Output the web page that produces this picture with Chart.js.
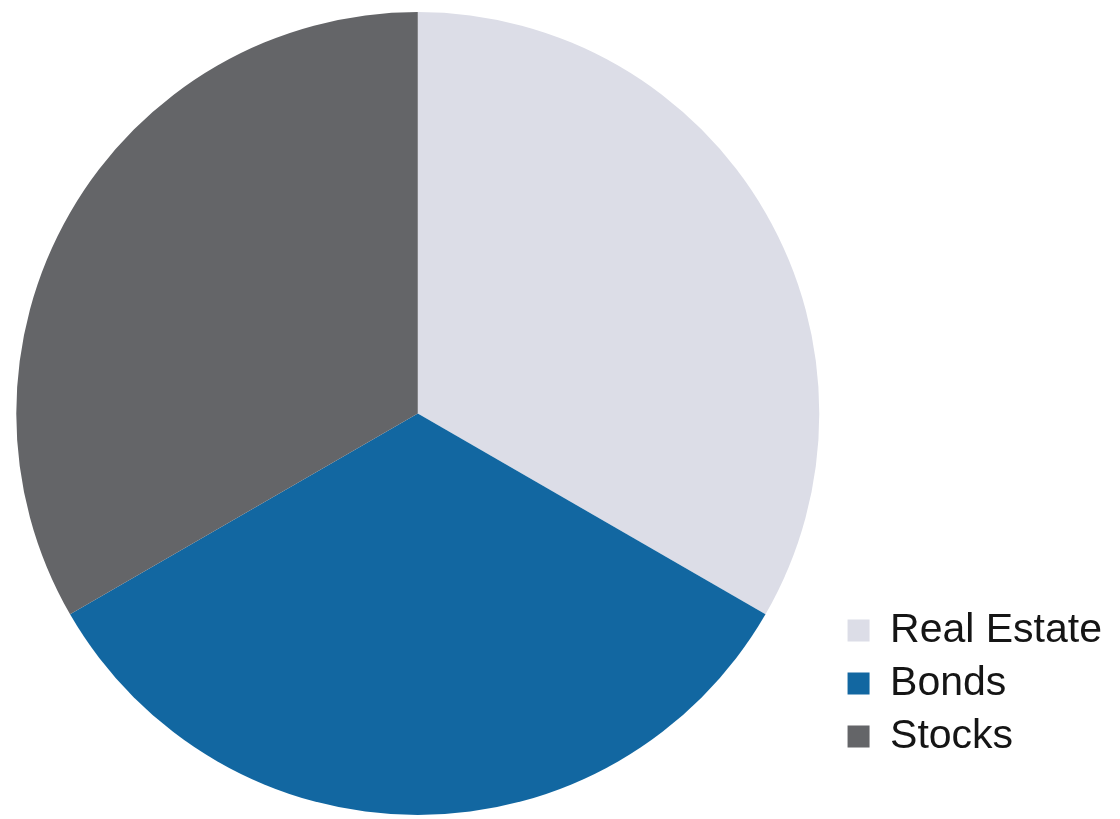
<!DOCTYPE html>
<html lang="en">
<head>
  <meta charset="UTF-8">
  <title>Allocation</title>
  <script src="https://cdn.jsdelivr.net/npm/chart.js"></script>
  <style>
    html, body { margin: 0; padding: 0; background: #ffffff; }
    #wrap { width: 1120px; height: 819px; }
  </style>
</head>
<body>
<div id="wrap"><canvas id="allocChart"></canvas></div>

<script>
  // asset classes and their share (three equal slices)
  var categories = ['Real Estate', 'Bonds', 'Stocks'];
  var shares = [33.3, 33.3, 33.3];
  var sliceColors = ['#dcdde7', '#1267a1', '#646568'];

  // legend sits lower right, not at the very bottom
  var legendLift = {
    id: 'legendLift',
    afterLayout: function(chart) {
      if (chart.legend) {
        chart.legend.bottom -= 46;
      }
    }
  };

  var ctx = document.getElementById('allocChart').getContext('2d');

  new Chart(ctx, {
    type: 'pie',
    data: {
      labels: categories,
      datasets: [{
        data: shares,
        backgroundColor: sliceColors,
        borderWidth: 0
      }]
    },
    options: {
      responsive: true,
      maintainAspectRatio: false,
      devicePixelRatio: 1,
      animation: false,
      layout: {
        padding: { top: 12, bottom: 4, left: 0, right: 8 }
      },
      plugins: {
        tooltip: { enabled: false },
        legend: {
          position: 'right',
          align: 'end',
          labels: {
            boxWidth: 22,
            boxHeight: 22,
            padding: 12,
            color: '#151515',
            font: { family: '"Liberation Sans", Arial, sans-serif', size: 41 }
          }
        }
      }
    },
    plugins: [legendLift]
  });
</script>
</body>
</html>
